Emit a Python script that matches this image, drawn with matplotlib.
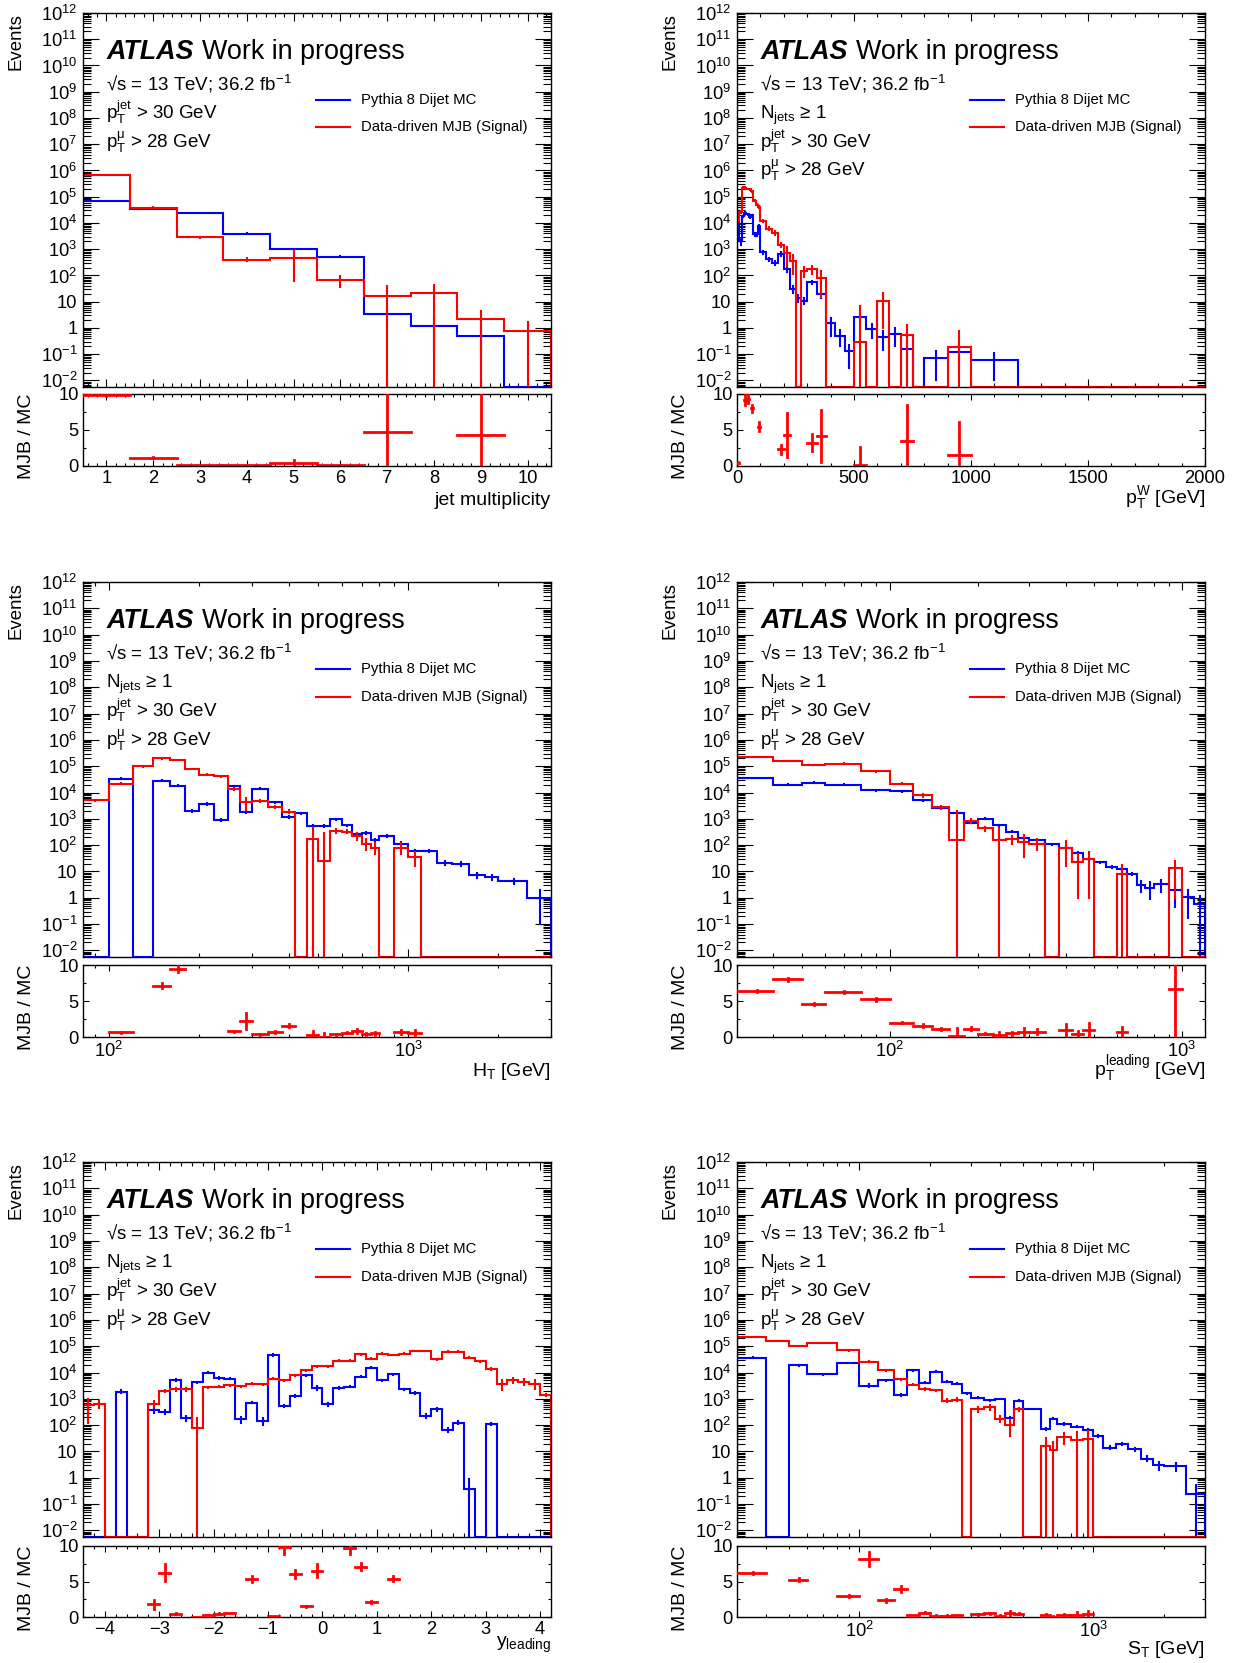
import numpy as np
import matplotlib
matplotlib.use("Agg")
import matplotlib.pyplot as plt
from matplotlib.ticker import FixedLocator, FuncFormatter, NullFormatter

plt.rcParams["font.family"] = ["Liberation Sans", "DejaVu Sans"]
plt.rcParams["mathtext.fontset"] = "custom"
plt.rcParams["mathtext.rm"] = "Liberation Sans"
plt.rcParams["mathtext.it"] = "Liberation Sans"
plt.rcParams["mathtext.bf"] = "Liberation Sans:bold"
plt.rcParams["mathtext.sf"] = "Liberation Sans"
plt.rcParams["mathtext.default"] = "regular"
plt.rcParams["axes.linewidth"] = 1.0

# ---------------- jet multiplicity ----------------
njet_edges = [0.5, 1.5, 2.5, 3.5, 4.5, 5.5, 6.5, 7.5, 8.5, 9.5, 10.5]
njet_mc = [7.0e4, 3.3e4, 2.4e4, 3.9e3, 1.0e3, 520, 3.5, 1.2, 0.51, 0]
njet_mc_err = [600, 400, 350, 150, 60, 30, 2.5, 1.05, 0.4, 0]
njet_mjb = [6.9e5, 3.8e4, 2.8e3, 400, 470, 65, 16.5, 21, 2.2, 0.77]
njet_mjb_err = [1.2e4, 1.5e3, 200, 50, 410, 30, 22, 21.5, 2.4, 0.9]

# ---------------- W boson pT ----------------
ptw_edges = [0, 10, 20, 30, 40, 50, 60, 70, 80, 90, 100, 125, 150, 175, 200, 225,
             250, 275, 300, 340, 380, 420, 460, 500, 550, 600, 650, 700, 750, 800,
             900, 1000, 1200, 2000]
ptw_mc = [2.3e4, 2.0e3, 1.8e4, 2.4e4, 2.15e4, 1.7e4, 2.0e4, 3.7e3, 3.7e3, 7.5e3,
          750, 420, 310, 650, 170, 30, 14, 11, 54, 19,
          1.5, 0.5, 0.13, 2.7, 0.9, 0.45, 0.6, 0.16, 0, 0.07,
          0.125, 0.06, 0]
ptw_mc_err = [1500, 500, 1200, 1700, 1300, 1000, 1000, 500, 500, 800,
              100, 60, 50, 100, 30, 8, 4, 3, 8, 5,
              1.0, 0.3, 0.1, 1.0, 0.5, 0.3, 0.4, 0.12, 0, 0.06,
              0.1, 0.05, 0]
ptw_mjb = [1.1e4, 2.6e4, 2.2e5, 2.2e5, 2.0e5, 1.9e5, 1.6e5, 7e4, 5e4, 4.1e4,
           1.2e4, 6e3, 4.3e3, 1.5e3, 730, 360, 0, 150, 175, 80,
           0, 0, 0, 0.3, 0, 11, 0, 0.55, 0, 0,
           0.19, 0, 0]
ptw_mjb_err = [500, 1500, 5000, 5000, 5000, 5000, 4000, 3000, 2500, 2500,
               1500, 800, 700, 300, 500, 250, 0, 60, 60, 65,
               0, 0, 0, 6.8, 0, 10, 0, 0.7, 0, 0,
               0.55, 0, 0]

# ---------------- HT ----------------
ht_edges = [80, 100, 120, 140, 160, 180, 200, 225, 250, 275, 300, 340, 380, 420,
            460, 500, 550, 600, 650, 700, 750, 800, 900, 1000, 1100, 1250, 1400,
            1600, 1800, 2000, 2500, 3000]
ht_mc = [0, 3.4e4, 0, 2.8e4, 1.8e4, 2.0e3, 3.8e3, 900, 1.7e4, 1.9e3,
         1.4e4, 4.2e3, 1.2e3, 1.6e3, 550, 520, 950, 560, 260, 300,
         155, 225, 115, 60, 60, 21, 19, 7.4, 6.2, 4.2, 1.0]
ht_mc_err = [0, 1500, 0, 1200, 800, 200, 300, 100, 700, 200,
             600, 200, 80, 100, 40, 40, 60, 40, 25, 25,
             15, 20, 12, 6, 6, 3, 3, 1.5, 1.3, 1.0, 0.9]
ht_mjb = [5.0e3, 2.2e4, 1.0e5, 2.0e5, 1.7e5, 7.8e4, 4.7e4, 4.2e4, 1.4e4, 4.2e3,
          4.9e3, 2.9e3, 1.9e3, 0, 175, 25, 350, 330, 220, 115,
          81, 0, 81, 36, 0, 0, 0, 0, 0, 0, 0]
ht_mjb_err = [300, 800, 3000, 4000, 4000, 2500, 2000, 2000, 1000, 2000,
              500, 300, 250, 0, 270, 255, 50, 50, 60, 50,
              35, 0, 35, 20, 0, 0, 0, 0, 0, 0, 0]

# ---------------- leading jet pT ----------------
ptl_edges = [30, 40, 50, 60, 80, 100, 120, 140, 160, 180, 200, 225, 250, 275, 300,
             340, 380, 420, 460, 500, 550, 600, 650, 700, 750, 800, 900, 1000,
             1100, 1200]
ptl_mc = [3.6e4, 2.0e4, 2.4e4, 2.0e4, 1.2e4, 1.1e4, 5.1e3, 2.5e3, 1.6e3, 720,
          1.0e3, 575, 320, 180, 155, 110, 81, 51, 29, 22,
          15, 12, 8.3, 3.0, 2.4, 3.2, 1.95, 1.07, 0.6]
ptl_mc_err = [600, 400, 400, 300, 400, 250, 150, 100, 60, 40,
              40, 25, 15, 8, 7, 5, 4, 3, 2, 1.5,
              1.2, 1.0, 0.8, 1.3, 1.5, 1.5, 1.5, 0.9, 0.6]
ptl_mjb = [2.3e5, 1.6e5, 1.1e5, 1.25e5, 6.3e4, 2.2e4, 8.0e3, 2.7e3, 155, 850,
           430, 155, 170, 135, 115, 0, 81, 23, 29, 0,
           0, 8.3, 0, 0, 0, 0, 13, 0, 0]
ptl_mjb_err = [3000, 2500, 2000, 2000, 1500, 1000, 1000, 400, 1900, 150,
               80, 280, 60, 100, 50, 0, 65, 22, 28, 0,
               0, 9, 0, 0, 0, 0, 12, 0, 0]

# ---------------- leading jet rapidity ----------------
yl_edges = [-4.4, -4.2, -4.0, -3.8, -3.6, -3.4, -3.2, -3.0, -2.8, -2.6, -2.4, -2.2,
            -2.0, -1.8, -1.6, -1.4, -1.2, -1.0, -0.8, -0.6, -0.4, -0.2, 0.0, 0.2,
            0.4, 0.6, 0.8, 1.0, 1.2, 1.4, 1.6, 1.8, 2.0, 2.2, 2.4, 2.6, 2.8, 3.0,
            3.2, 3.4, 3.6, 3.8, 4.0, 4.2]
yl_mc = [0, 0, 0, 1.9e3, 0, 0, 370, 320, 5.1e3, 180,
         4.2e3, 9.8e3, 6.3e3, 5.9e3, 165, 710, 140, 4.6e4, 520, 1.3e3,
         7.9e3, 2.6e3, 620, 2.5e3, 2.9e3, 6.9e3, 1.55e4, 5.1e3, 8.5e3, 2.3e3,
         1.7e3, 225, 400, 65, 125, 0.39, 0, 115, 0, 0,
         0, 0, 0]
yl_mc_err = [0, 0, 0, 300, 0, 0, 90, 45, 400, 40,
             300, 600, 400, 400, 40, 40, 40, 3000, 40, 100,
             400, 350, 100, 200, 200, 400, 600, 300, 400, 150,
             120, 30, 40, 12, 15, 0.5, 0, 10, 0, 0,
             0, 0, 0]
yl_mjb = [575, 660, 0, 0, 0, 0, 660, 2.0e3, 2.3e3, 2.3e3,
          80, 2.7e3, 2.9e3, 3.3e3, 3.0e3, 3.8e3, 3.6e3, 5.9e3, 5.1e3, 7.9e3,
          1.2e4, 1.7e4, 1.7e4, 2.8e4, 2.8e4, 4.9e4, 3.3e4, 5.2e4, 4.6e4, 5.2e4,
          6.5e4, 6.5e4, 3.2e4, 6.2e4, 6.2e4, 3.7e4, 2.7e4, 1.35e4, 3.6e3, 5.1e3,
          4.5e3, 3.8e3, 1.4e3]
yl_mjb_err = [450, 200, 0, 0, 0, 0, 150, 250, 250, 250,
              100, 150, 150, 150, 150, 200, 200, 250, 300, 400,
              500, 800, 800, 1000, 1000, 1500, 1200, 1500, 1500, 1500,
              2000, 2000, 1500, 2000, 2000, 1500, 1500, 1000, 1500, 1000,
              1000, 1500, 150]

# ---------------- ST ----------------
st_edges = [30, 40, 50, 60, 80, 100, 120, 140, 160, 180, 200, 225, 250, 275, 300,
            340, 380, 420, 460, 500, 600, 650, 700, 800, 900, 1000, 1100, 1250,
            1400, 1600, 1800, 2000, 2500, 3000]
st_mc = [3.7e4, 0, 1.9e4, 8.7e3, 2.3e4, 3.2e3, 5.1e3, 1.4e3, 1.2e4, 4.1e3,
         1.07e4, 4.5e3, 3.8e3, 1.6e3, 1.1e3, 890, 1.0e3, 195, 850, 410,
         71, 178, 110, 87, 65, 38, 14, 19, 12, 5.4,
         3.0, 2.75, 0.24]
st_mc_err = [800, 0, 600, 300, 900, 350, 300, 150, 400, 150,
             300, 150, 100, 50, 40, 30, 30, 15, 30, 15,
             8, 10, 6, 5, 4, 3, 1.5, 2, 1.5, 1.2,
             1.0, 1.0, 0.3]
st_mjb = [2.3e5, 1.6e5, 1.0e5, 1.3e5, 6.9e4, 2.6e4, 1.2e4, 5.5e3, 3.5e3, 2.4e3,
          2.1e3, 850, 930, 0, 410, 470, 178, 100, 400, 0,
          16, 11, 35, 28, 29, 0, 0, 0, 0, 0,
          0, 0, 0]
st_mjb_err = [3000, 2500, 2000, 2000, 1500, 1200, 800, 300, 250, 200,
              150, 120, 120, 0, 80, 90, 50, 60, 50, 0,
              16, 11, 15, 28, 29, 0, 0, 0, 0, 0,
              0, 0, 0]

# ---------------- figure layout (pixels) ----------------
W, H = 1237, 1663
fig = plt.figure(figsize=(W / 100, H / 100), dpi=100)
fig.patch.set_facecolor("white")
renderer = fig.canvas.get_renderer()

YMIN, YMAX = 10 ** -2.25, 1e12
BLUE = (0.0, 0.0, 1.0)
RED = (1.0, 0.0, 0.0)
COLS = [(83, 551), (737, 1205)]
ROWS = [((13, 387), (394, 466)), ((582, 957), (965, 1037)), ((1162, 1537), (1546, 1617))]
LW = 1.5


def rect(lr, tb):
    (l, r), (t, b) = lr, tb
    return [l / W, 1 - b / H, (r - l) / W, (b - t) / H]


def log_label(v, pos):
    n = int(round(np.log10(v)))
    if n == 0:
        return "1"
    if n == 1:
        return "10"
    return r"$10^{%d}$" % n


def draw_hist(ax, edges, vals, errs, color):
    edges = np.asarray(edges, float)
    vals = np.asarray(vals, float)
    errs = np.asarray(errs, float)
    shown = np.where(vals > 0, vals, YMIN)
    xs = np.concatenate([[edges[0]], np.repeat(edges, 2)[1:-1], [edges[-1]]])
    ys = np.concatenate([[YMIN], np.repeat(shown, 2), [YMIN]])
    ax.plot(xs, ys, color=color, lw=LW, solid_joinstyle="miter", zorder=2)
    centers = 0.5 * (edges[:-1] + edges[1:])
    for c, v, e in zip(centers, vals, errs):
        if v > 0 and e > 0:
            lo = v - e if v - e > YMIN else YMIN
            ax.plot([c, c], [lo, v + e], color=color, lw=LW, zorder=2)


def draw_ratio(rax, edges, mc, mc_err, mjb, mjb_err):
    edges = np.asarray(edges, float)
    mc = np.asarray(mc, float)
    mc_err = np.asarray(mc_err, float)
    mjb = np.asarray(mjb, float)
    mjb_err = np.asarray(mjb_err, float)
    valid = (mc > 0) & (mjb > 0)
    for i in np.where(valid)[0]:
        r = mjb[i] / mc[i]
        if r > 10.0:
            continue
        e = r * np.sqrt((mjb_err[i] / mjb[i]) ** 2 + (mc_err[i] / mc[i]) ** 2)
        c = 0.5 * (edges[i] + edges[i + 1])
        rax.plot([edges[i], edges[i + 1]], [r, r], color=RED, lw=2.0, zorder=3)
        rax.plot([c, c], [r - e, r + e], color=RED, lw=2.0, zorder=3)


def setup_x(ax, cfg, show_labels):
    if cfg["xscale"] == "log":
        ax.set_xscale("log")
    ax.set_xlim(*cfg["xlim"])
    ax.xaxis.set_major_locator(FixedLocator(cfg["xmajor"]))
    ax.xaxis.set_minor_locator(FixedLocator(cfg["xminor"]))
    ax.xaxis.set_minor_formatter(NullFormatter())
    if show_labels:
        ax.xaxis.set_major_formatter(FuncFormatter(cfg["xfmt"]))
    else:
        ax.xaxis.set_major_formatter(NullFormatter())


def int_label(v, pos):
    return "%d" % int(round(v)) if v >= 0 else "\u2212%d" % int(round(-v))


def dec_label(v, pos):
    return r"$10^{%d}$" % int(round(np.log10(v)))


log_minor = [k * 10.0 ** n for n in range(0, 5) for k in range(2, 10)]

panels = [
    dict(edges=njet_edges, mc=njet_mc, mc_err=njet_mc_err, mjb=njet_mjb, mjb_err=njet_mjb_err,
         xscale="linear", xlim=(0.5, 10.5), xmajor=list(range(1, 11)),
         xminor=list(np.arange(0.6, 10.5, 0.2)), xfmt=int_label,
         xlabel="jet multiplicity", xlabel_y=-0.54, njets=False),
    dict(edges=ptw_edges, mc=ptw_mc, mc_err=ptw_mc_err, mjb=ptw_mjb, mjb_err=ptw_mjb_err,
         xscale="linear", xlim=(0, 2000), xmajor=[0, 500, 1000, 1500, 2000],
         xminor=list(range(100, 2000, 100)), xfmt=int_label,
         xlabel=r"$p_{T}^{W}$ [GeV]", xlabel_y=-0.52, njets=True),
    dict(edges=ht_edges, mc=ht_mc, mc_err=ht_mc_err, mjb=ht_mjb, mjb_err=ht_mjb_err,
         xscale="log", xlim=(82, 3000), xmajor=[100, 1000], xminor=log_minor, xfmt=dec_label,
         xlabel=r"$H_{T}$ [GeV]", xlabel_y=-0.54, njets=True),
    dict(edges=ptl_edges, mc=ptl_mc, mc_err=ptl_mc_err, mjb=ptl_mjb, mjb_err=ptl_mjb_err,
         xscale="log", xlim=(30, 1200), xmajor=[100, 1000], xminor=log_minor, xfmt=dec_label,
         xlabel=r"$p_{T}^{leading}$ [GeV]", xlabel_y=-0.54, njets=True),
    dict(edges=yl_edges, mc=yl_mc, mc_err=yl_mc_err, mjb=yl_mjb, mjb_err=yl_mjb_err,
         xscale="linear", xlim=(-4.4, 4.2), xmajor=list(range(-4, 5)),
         xminor=list(np.arange(-4.2, 4.2, 0.2)), xfmt=int_label,
         xlabel=r"$y_{leading}$", xlabel_y=-0.42, njets=True),
    dict(edges=st_edges, mc=st_mc, mc_err=st_mc_err, mjb=st_mjb, mjb_err=st_mjb_err,
         xscale="log", xlim=(30, 3000), xmajor=[100, 1000], xminor=log_minor, xfmt=dec_label,
         xlabel=r"$S_{T}$ [GeV]", xlabel_y=-0.52, njets=True),
]

TICK_FS = 13.2

for idx, cfg in enumerate(panels):
    row, col = divmod(idx, 2)
    main_tb, ratio_tb = ROWS[row]
    ax = fig.add_axes(rect(COLS[col], main_tb))
    rax = fig.add_axes(rect(COLS[col], ratio_tb))

    # main panel
    ax.set_yscale("log")
    ax.set_ylim(YMIN, YMAX)
    ax.yaxis.set_major_locator(FixedLocator(10.0 ** np.arange(-2, 13)))
    ax.yaxis.set_minor_locator(FixedLocator([k * 10.0 ** n for n in range(-3, 12) for k in range(2, 10)]))
    ax.yaxis.set_major_formatter(FuncFormatter(log_label))
    ax.yaxis.set_minor_formatter(NullFormatter())
    setup_x(ax, cfg, False)
    draw_hist(ax, cfg["edges"], cfg["mc"], cfg["mc_err"], BLUE)
    draw_hist(ax, cfg["edges"], cfg["mjb"], cfg["mjb_err"], RED)
    ax.tick_params(axis="both", which="both", direction="in", top=True, right=True,
                   width=0.8, labelsize=TICK_FS)
    ax.tick_params(axis="y", which="major", length=11.5, pad=4)
    ax.tick_params(axis="y", which="minor", length=5.8)
    ax.tick_params(axis="x", which="major", length=5.8)
    ax.tick_params(axis="x", which="minor", length=2.9)

    # ratio panel
    setup_x(rax, cfg, True)
    rax.set_ylim(0, 10)
    rax.yaxis.set_major_locator(FixedLocator([0, 5, 10]))
    rax.yaxis.set_minor_locator(FixedLocator([2.5, 7.5]))
    rax.yaxis.set_major_formatter(FuncFormatter(lambda v, p: "%d" % v))
    draw_ratio(rax, cfg["edges"], cfg["mc"], cfg["mc_err"], cfg["mjb"], cfg["mjb_err"])
    rax.tick_params(axis="both", which="both", direction="in", top=True, right=True,
                    width=0.8, labelsize=TICK_FS)
    rax.tick_params(axis="y", which="major", length=4.3, pad=3)
    rax.tick_params(axis="y", which="minor", length=2.2)
    rax.tick_params(axis="x", which="major", length=4.0, pad=3)
    rax.tick_params(axis="x", which="minor", length=2.0)

    # axis titles
    ax.text(-0.143, 1.0, "Events", transform=ax.transAxes, rotation=90,
            ha="center", va="top", fontsize=13.4)
    rax.text(-0.121, 1.0, "MJB / MC", transform=rax.transAxes, rotation=90,
             ha="center", va="top", fontsize=14)
    rax.text(1.0, cfg["xlabel_y"], cfg["xlabel"], transform=rax.transAxes,
             ha="right", va="baseline", fontsize=14)

    # ATLAS label
    t = ax.text(0.05, 0.878, "ATLAS", transform=ax.transAxes, fontsize=19.4,
                fontweight="bold", fontstyle="italic", va="baseline")
    bb = t.get_window_extent(renderer)
    x_next = ax.transAxes.inverted().transform((bb.x1 + 8.5, bb.y0))[0]
    ax.text(x_next, 0.878, "Work in progress", transform=ax.transAxes,
            fontsize=19.4, va="baseline")

    lines = ["\u221as = 13 TeV; 36.2 fb$^{-1}$"]
    if cfg["njets"]:
        lines.append("$N_{jets}$ \u2265 1")
    lines.append("$p_{T}^{jet}$ > 30 GeV")
    lines.append(r"$p_{T}^{\mu}$ > 28 GeV")
    for y, s in zip([0.793, 0.716, 0.640, 0.563], lines):
        ax.text(0.05, y, s, transform=ax.transAxes, fontsize=13.5, va="baseline")

    # legend
    for y, c, lab in [(0.768, BLUE, "Pythia 8 Dijet MC"),
                      (0.694, RED, "Data-driven MJB (Signal)")]:
        ax.plot([0.498, 0.571], [y, y], transform=ax.transAxes, color=c, lw=LW)
        ax.text(0.595, y, lab, transform=ax.transAxes, fontsize=10.7, va="center")

fig.savefig("out.png", dpi=100, facecolor="white")
